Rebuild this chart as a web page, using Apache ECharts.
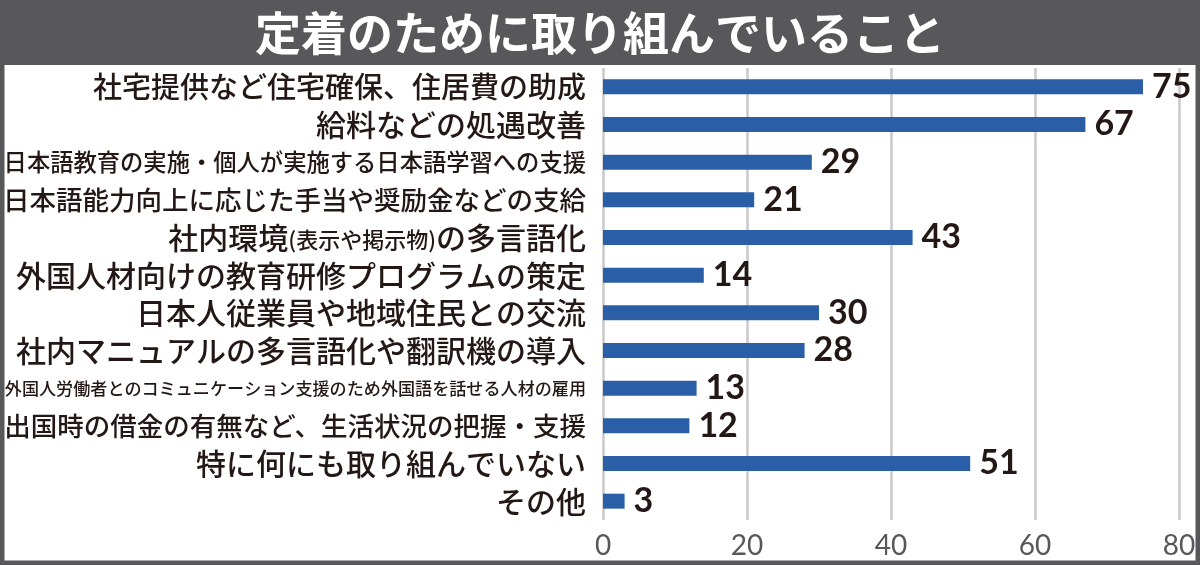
<!DOCTYPE html>
<html>
<head>
    <meta charset="utf-8">
    <title>定着のために取り組んでいること</title>
    <script src="https://cdn.jsdelivr.net/npm/echarts@6/dist/echarts.min.js"></script>
    <style>
        html, body { margin: 0; padding: 0; background: #fff; }
        #main { width: 1200px; height: 565px; }
    </style>
</head>
<body>
    <div id="main"></div>
    <script type="text/javascript">
        // 項目（上から順）
        var categories = [
            '社宅提供など住宅確保、住居費の助成',
            '給料などの処遇改善',
            '日本語教育の実施・個人が実施する日本語学習への支援',
            '日本語能力向上に応じた手当や奨励金などの支給',
            '社内環境(表示や掲示物)の多言語化',
            '外国人材向けの教育研修プログラムの策定',
            '日本人従業員や地域住民との交流',
            '社内マニュアルの多言語化や翻訳機の導入',
            '外国人労働者とのコミュニケーション支援のため外国語を話せる人材の雇用',
            '出国時の借金の有無など、生活状況の把握・支援',
            '特に何にも取り組んでいない',
            'その他'
        ];
        var values = [75, 67, 29, 21, 43, 14, 30, 28, 13, 12, 51, 3];
        var xTicks = [0, 20, 40, 60, 80];

        var labelFont = 'Noto Sans CJK JP';
        var textColor = '#231815';
        var frameColor = '#58585a';

        // 長い項目は字を小さくする（、・は全角になるので少し詰める）
        function labelStyle(name) {
            if (name.indexOf('(') >= 0) return 'paren';
            if (name.length > 30) return 'xs';
            if (name.length > 23) return 's';
            if (name.length > 20) return 'm';
            if (name.indexOf('、') >= 0) return 'k';
            return 'n';
        }

        var myChart = echarts.init(document.getElementById('main'));

        var option = {
            backgroundColor: '#fff',
            animation: false,
            title: {
                text: '定着のために取り組んでいること',
                left: 'center',
                top: 5,
                textStyle: {
                    color: '#fff',
                    fontFamily: labelFont,
                    fontWeight: 'bold',
                    fontSize: 46
                }
            },
            graphic: [
                {
                    type: 'rect',
                    z: -1,
                    shape: { x: 0, y: 0, width: 1200, height: 65 },
                    style: { fill: frameColor }
                },
                {
                    type: 'rect',
                    z: 10,
                    shape: { x: 2, y: 2, width: 1196, height: 561 },
                    style: { fill: 'none', stroke: frameColor, lineWidth: 5 }
                }
            ],
            grid: {
                left: 602,
                right: 21,
                top: 68,
                bottom: 45
            },
            xAxis: {
                type: 'value',
                min: xTicks[0],
                max: xTicks[xTicks.length - 1],
                interval: 20,
                axisLine: { show: false },
                axisTick: { show: false },
                axisLabel: {
                    color: '#595757',
                    fontFamily: 'Lato',
                    fontSize: 28,
                    margin: 12
                },
                splitLine: {
                    lineStyle: { color: '#c9c9c9', width: 2.5 }
                }
            },
            yAxis: {
                type: 'category',
                inverse: true,
                data: categories,
                axisLine: { show: false },
                axisTick: { show: false },
                axisLabel: {
                    interval: 0,
                    margin: 17,
                    color: textColor,
                    fontFamily: labelFont,
                    fontSize: 30,
                    formatter: function (name) {
                        var s = labelStyle(name);
                        if (s === 'paren') {
                            var a = name.indexOf('('), b = name.indexOf(')');
                            return '{n|' + name.slice(0, a) + '}{p|' + name.slice(a, b + 1) + '}{n|' + name.slice(b + 1) + '}';
                        }
                        return '{' + s + '|' + name + '}';
                    },
                    rich: {
                        n: { fontSize: 30, fontWeight: 500, fontFamily: labelFont, color: textColor },
                        k: { fontSize: 29, fontWeight: 500, fontFamily: labelFont, color: textColor },
                        m: { fontSize: 26.5, fontWeight: 500, fontFamily: labelFont, color: textColor },
                        s: { fontSize: 23.3, fontWeight: 500, fontFamily: labelFont, color: textColor },
                        xs: { fontSize: 17.1, fontWeight: 500, fontFamily: labelFont, color: textColor },
                        p: { fontSize: 22, fontWeight: 500, fontFamily: labelFont, color: textColor, padding: [4, 0, 0, 0] }
                    }
                }
            },
            series: [
                {
                    type: 'bar',
                    data: values,
                    barWidth: 15,
                    itemStyle: { color: '#2a5fa8' },
                    label: {
                        show: true,
                        position: 'right',
                        distance: 9,
                        color: textColor,
                        fontFamily: 'Lato',
                        fontWeight: 'bold',
                        fontSize: 34
                    }
                }
            ]
        };

        myChart.setOption(option);
    </script>
</body>
</html>
